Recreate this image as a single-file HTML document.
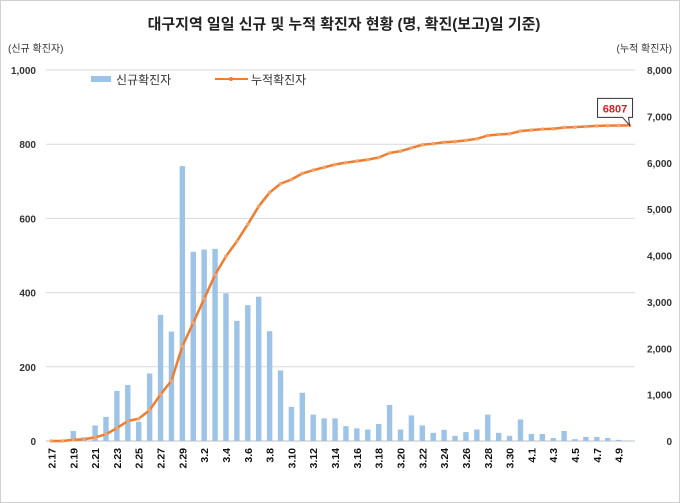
<!DOCTYPE html>
<html><head><meta charset="utf-8"><style>
body{margin:0;background:#fff}
svg{display:block;font-family:"Liberation Sans","Noto Sans CJK KR",sans-serif}
</style></head><body>
<svg id="c" width="680" height="503" viewBox="0 0 680 503">
<rect x="0.5" y="0.5" width="679" height="502" fill="#fff" stroke="#d0d0d0"/>
<text x="344" y="29" text-anchor="middle" font-size="15" font-weight="bold" fill="#222">대구지역 일일 신규 및 누적 확진자 현황 (명, 확진(보고)일 기준)</text>
<text x="8" y="52" font-size="10" fill="#333">(신규 확진자)</text>
<text x="672" y="52" text-anchor="end" font-size="10" fill="#333">(누적 확진자)</text>
<g id="grid"></g><g id="bars"></g><g id="line"></g><g id="axes"></g>
<g>
<rect x="91" y="76" width="20" height="6" fill="#9dc3e6"/>
<text x="116" y="84" font-size="12" fill="#333">신규확진자</text>
<line x1="215" y1="79" x2="248" y2="79" stroke="#ed7d31" stroke-width="2"/>
<circle cx="231" cy="79" r="2" fill="#ed7d31"/>
<text x="251" y="84" font-size="12" fill="#333">누적확진자</text>
</g>
<g id="callout"></g>
</svg>
<script>
const dates=["2.17","2.18","2.19","2.20","2.21","2.22","2.23","2.24","2.25","2.26","2.27","2.28","2.29","3.1","3.2","3.3","3.4","3.5","3.6","3.7","3.8","3.9","3.10","3.11","3.12","3.13","3.14","3.15","3.16","3.17","3.18","3.19","3.20","3.21","3.22","3.23","3.24","3.25","3.26","3.27","3.28","3.29","3.30","3.31","4.1","4.2","4.3","4.4","4.5","4.6","4.7","4.8","4.9","4.10"];
const daily=[0,0,27,10,42,65,135,151,52,182,340,295,741,510,516,518,398,324,366,389,296,190,92,130,71,61,61,40,34,31,46,97,31,69,42,22,30,14,24,31,71,22,14,58,19,19,8,27,5,11,11,8,3,1];
const cumulative=[0,0,27,37,79,144,279,430,482,664,1004,1299,2040,2550,3066,3584,3982,4306,4672,5061,5357,5547,5639,5769,5840,5901,5962,6002,6036,6067,6113,6210,6250,6320,6387,6411,6442,6456,6482,6516,6587,6610,6624,6684,6704,6725,6734,6761,6768,6781,6794,6800,6804,6807];
const leftTicks=[0,200,400,600,800,1000];
const rightTicks=[0,1000,2000,3000,4000,5000,6000,7000,8000];
const NS="http://www.w3.org/2000/svg";
const X0=46,X1=635,Y0=441,Y1=70;
const step=(X1-X0)/dates.length;
const xC=i=>X0+step*(i+0.5);
const yL=v=>Y0-(v/1000)*(Y0-Y1);
const yR=v=>Y0-(v/8000)*(Y0-Y1);
function mk(tag,attrs,parent,txt){const e=document.createElementNS(NS,tag);for(const k in attrs)e.setAttribute(k,attrs[k]);if(txt!==undefined)e.textContent=txt;document.getElementById(parent).appendChild(e);return e;}
leftTicks.forEach(v=>{
  const g=mk('line',{x1:X0,x2:X1,y1:yL(v),y2:yL(v),stroke:v===0?'#bfbfbf':'#d9d9d9'},'grid');
  
  
  const t=mk('text',{x:36,y:yL(v)+4,'text-anchor':'end','font-size':'10','font-weight':'bold',fill:'#333'},'axes',v.toLocaleString('en-US'));
  
  
});
rightTicks.forEach(v=>{
  const t=mk('text',{x:672,y:yR(v)+4,'text-anchor':'end','font-size':'10','font-weight':'bold',fill:'#333'},'axes',v.toLocaleString('en-US'));
  
  
});
daily.forEach((v,i)=>{
  const h=Y0-yL(v);
  const r=mk('rect',{x:xC(i)-2.7,y:yL(v),width:5.4,height:h,fill:'#9dc3e6'},'bars');
  
  
});
dates.forEach((d,i)=>{
  if(i%2)return;
  const t=mk('text',{transform:`translate(${xC(i)+4},448) rotate(-90)`,'text-anchor':'end','font-size':'10.5','font-weight':'bold',fill:'#111'},'axes',d);
  
  
});
const pts=cumulative.map((v,i)=>xC(i)+','+yR(v)).join(' ');
const pl=mk('polyline',{points:pts,fill:'none',stroke:'#ed7d31','stroke-width':'2.5','stroke-linejoin':'round'},'line');


cumulative.forEach((v,i)=>{
  const c=mk('circle',{cx:xC(i),cy:yR(v),r:1.8,fill:'#f4a36b'},'line');
  
  
});
const li=cumulative.length-1,lx=xC(li),ly=yR(cumulative[li]);
const cb=mk('path',{d:`M${lx-32} ${ly-27}h35v19h-4l1 8l-7-8h-25z`,fill:'#fff',stroke:'#333','stroke-width':'1'},'callout');


const ct=mk('text',{x:lx-14.5,y:ly-13,'text-anchor':'middle','font-size':'11','font-weight':'bold',fill:'#d62020'},'callout',String(cumulative[li]));


</script>
</body></html>
